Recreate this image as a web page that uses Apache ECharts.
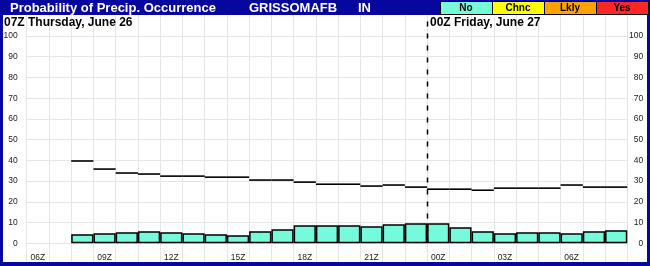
<!DOCTYPE html>
<html>
<head>
<meta charset="utf-8">
<script src="https://cdn.jsdelivr.net/npm/echarts@6/dist/echarts.min.js"></script>
<style>
html,body{margin:0;padding:0;background:#fff;}
#pop{width:650px;height:266px;}
</style>
</head>
<body>
<div id="pop"></div>
<script>
// hourly categories, 06Z Thu .. 08Z Fri
var hours=['06Z','07Z','08Z','09Z','10Z','11Z','12Z','13Z','14Z','15Z','16Z','17Z','18Z','19Z','20Z','21Z','22Z','23Z',
    '00Z','01Z','02Z','03Z','04Z','05Z','06Z','07Z','08Z'];
// "No" probability bars
var popNo=[null,null,4.4,4.8,5.3,5.8,5.3,4.8,4.4,3.9,5.8,6.8,8.7,8.7,8.7,8.2,9.2,9.7,
    9.7,7.7,5.8,4.8,5.3,5.3,4.8,5.8,6.3];
// black step line
var popLine=[null,null,39.7,35.8,33.9,33.4,32.4,32.4,31.9,31.9,30.5,30.5,29.5,28.5,28.5,27.6,28.1,27.1,
    26.1,26.1,25.6,26.6,26.6,26.6,28.1,27.1,27.1];
var yTicks=[0,10,20,30,40,50,60,70,80,90,100];
var legendNames=['No','Chnc','Lkly','Yes'];
var legendColors=['#76fadc','#ffff00','#ffa200','#ff2626'];
var dayStart=hours.indexOf('00Z');

var chart=echarts.init(document.getElementById('pop'));
var FONT='"Liberation Sans", Arial, sans-serif';
var BLUE='#0707a0';
var GRID='#e6e6e6';

var stepData=[];
for(let i=0;i<popLine.length;i++){
    if(popLine[i]!=null) stepData.push([i,popLine[i]]);
}

var splitColors=[];
for(let v=-10;v<=110;v+=10){
    splitColors.push(v<0||v>100?'rgba(0,0,0,0)':GRID);
}

function yLabel(v){
    return yTicks.indexOf(v)>=0?String(v):'';
}

var legendGraphics=[];
var lx=440,lw=52;
for(let i=0;i<legendNames.length;i++){
    legendGraphics.push({
        type:'rect',left:lx+i*lw,top:1,z:20,
        shape:{width:lw,height:13},
        style:{fill:legendColors[i],stroke:'#000',lineWidth:1}
    });
    legendGraphics.push({
        type:'text',x:lx+i*lw+lw/2,y:8,z:21,
        style:{text:legendNames[i],fill:'#000',font:'bold 10px '+FONT,align:'center',verticalAlign:'middle'}
    });
}

var option={
    backgroundColor:'#fff',
    animation:false,
    grid:{left:26.7,right:22.7,top:15.3,bottom:2,containLabel:false,outerBoundsMode:'none'},
    xAxis:{
        type:'category',
        data:hours,
        axisLine:{show:false,onZero:false},
        axisTick:{show:false},
        splitLine:{show:true,interval:0,lineStyle:{color:GRID,width:1}},
        axisLabel:{
            interval:0,margin:-11,color:'#222',fontSize:8.5,fontFamily:FONT,
            formatter:function(v,i){return i%3==0?v:'';}
        }
    },
    yAxis:[
        {
            type:'value',min:-10,max:110,interval:10,position:'left',
            axisLine:{show:false},axisTick:{show:false},
            splitLine:{show:true,lineStyle:{color:splitColors,width:1}},
            axisLabel:{margin:9,color:'#222',fontSize:8.5,fontFamily:FONT,formatter:yLabel,showMinLabel:true,showMaxLabel:true}
        },
        {
            type:'value',min:-10,max:110,interval:10,position:'right',
            axisLine:{show:false},axisTick:{show:false},splitLine:{show:false},
            axisLabel:{margin:16,align:'right',color:'#222',fontSize:8.5,fontFamily:FONT,formatter:yLabel,showMinLabel:true,showMaxLabel:true}
        }
    ],
    series:[
        {
            name:'No',
            type:'bar',
            data:popNo,
            barWidth:'100%',
            barCategoryGap:'0%',
            itemStyle:{color:legendColors[0],borderColor:'#000',borderWidth:1.5},
            z:3
        },
        {
            name:'step',
            type:'custom',
            data:stepData,
            z:4,
            renderItem:function(params,api){
                var c=api.coord([api.value(0),api.value(1)]);
                var w=api.size([1,0])[0];
                return {type:'line',shape:{x1:c[0]-w/2,y1:c[1],x2:c[0]+w/2,y2:c[1]},
                    style:{stroke:'#000',lineWidth:1.6}};
            }
        },
        {
            name:'day',
            type:'custom',
            data:[[dayStart,0,107]],
            z:5,
            renderItem:function(params,api){
                var b=api.coord([api.value(0),api.value(1)]);
                var t=api.coord([api.value(0),api.value(2)]);
                var w=api.size([1,0])[0];
                var x=Math.round(b[0]-w/2)+0.5;
                return {type:'line',shape:{x1:x,y1:t[1],x2:x,y2:b[1]},
                    style:{stroke:'#000',lineWidth:1.5,lineDash:[5,7]}};
            }
        }
    ],
    graphic:[
        {type:'rect',left:0,top:0,z:20,shape:{width:650,height:15},style:{fill:BLUE}},
        {type:'rect',left:0,top:0,z:20,shape:{width:3,height:266},style:{fill:BLUE}},
        {type:'rect',left:647,top:0,z:20,shape:{width:3,height:266},style:{fill:BLUE}},
        {type:'rect',left:0,top:262,z:20,shape:{width:650,height:4},style:{fill:BLUE}},
        {type:'text',x:10,y:8,z:21,style:{text:'Probability of Precip. Occurrence',fill:'#fff',font:'bold 13px '+FONT,verticalAlign:'middle'}},
        {type:'text',x:249,y:8,z:21,style:{text:'GRISSOMAFB',fill:'#fff',font:'bold 13px '+FONT,verticalAlign:'middle'}},
        {type:'text',x:358,y:8,z:21,style:{text:'IN',fill:'#fff',font:'bold 13px '+FONT,verticalAlign:'middle'}},
        {type:'text',x:4,y:23,z:21,style:{text:'07Z Thursday, June 26',fill:'#000',font:'bold 12px '+FONT,verticalAlign:'middle'}},
        {type:'text',x:430,y:23,z:21,style:{text:'00Z Friday, June 27',fill:'#000',font:'bold 12px '+FONT,verticalAlign:'middle'}}
    ].concat(legendGraphics)
};
chart.setOption(option);
</script>
</body>
</html>
